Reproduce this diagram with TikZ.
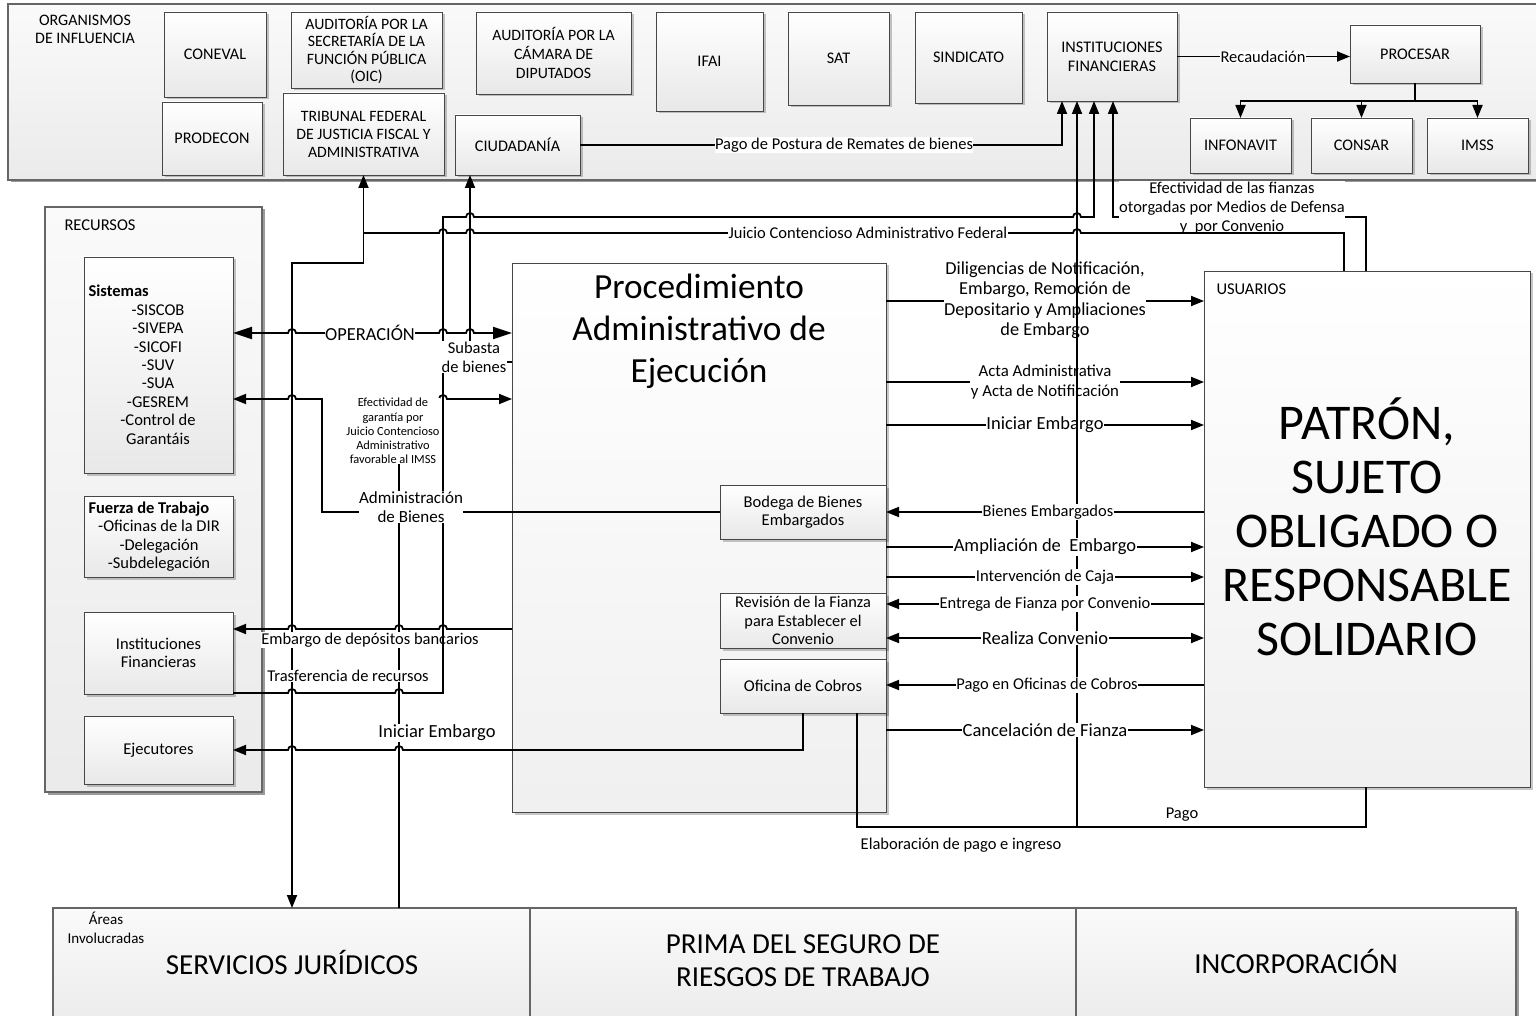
\documentclass[tikz,border=0pt]{standalone}
\usepackage{fontspec}
\setmainfont{Carlito}
\usetikzlibrary{arrows.meta,shadows}

\newcommand\fsz[2]{\fontsize{#1}{#2}\selectfont}
% line hops over a crossing vertical line (left-to-right / right-to-left)
\newcommand\hopR[2]{-- ({#1-4},#2) arc[start angle=180,end angle=0,radius=4pt]}
\newcommand\hopL[2]{-- ({#1+4},#2) arc[start angle=0,end angle=180,radius=4pt]}
% box from corner (x1,y1) to corner (x2,y2)
\newcommand\mkbox[7][]{%
  \pgfmathsetmacro\mbW{#5-#3}%
  \pgfmathsetmacro\mbH{#6-#4}%
  \pgfmathsetmacro\mbX{(#3+#5)/2}%
  \pgfmathsetmacro\mbY{(#4+#6)/2}%
  \node[box,minimum width=\mbW pt,minimum height=\mbH pt,#1] (#2) at (\mbX,\mbY) {#7};}

\begin{document}
\begin{tikzpicture}[x=1pt,y=-1pt,
  every node/.style={font=\fsz{16.5}{19}},
  >={Triangle[length=13pt,width=10pt]},
  conn/.style={line width=1.8pt,draw=black},
  bigtips/.style={{Triangle[length=19pt,width=12pt]}-{Triangle[length=19pt,width=12pt]}},
  box/.style={draw=black!72,line width=0.9pt,top color=white,bottom color=black!9,
    inner sep=0pt,outer sep=0pt,align=center,font=\fsz{16.2}{17.5},
    drop shadow={shadow xshift=2.5pt,shadow yshift=-2.5pt,fill=black,opacity=0.22}},
  band/.style={box,draw=black!60,line width=1.3pt,top color=black!2,bottom color=black!8},
  lbl/.style={fill=white,inner sep=0.5pt,align=center},
]
\useasboundingbox (0,0) rectangle (1536,1016);

% ---------- organismos de influencia ----------
\mkbox[band]{ORG}{8}{4}{1545}{180}{}
\node[align=center,font=\fsz{16}{18}] (tORG) at (85,29) {ORGANISMOS\\DE INFLUENCIA};
\mkbox{CONEV}{164}{12}{266}{97}{CONEVAL}
\mkbox{PRODE}{162}{102}{262}{175}{PRODECON}
\mkbox[font=\fsz{15.8}{17.3}]{AUDS}{291}{12}{442}{88}{AUDITORÍA POR LA\\SECRETARÍA DE LA\\FUNCIÓN PÚBLICA\\(OIC)}
\mkbox[font=\fsz{15.8}{18}]{TRIB}{283}{93}{444}{175}{TRIBUNAL FEDERAL\\DE JUSTICIA FISCAL Y\\ADMINISTRATIVA}
\mkbox[font=\fsz{15.8}{19}]{AUDC}{476}{12}{631}{94}{AUDITORÍA POR LA\\CÁMARA DE\\DIPUTADOS}
\mkbox{CIU}{455}{115}{580}{175}{CIUDADANÍA}
\mkbox{IFAI}{656}{12}{763}{111}{IFAI}
\mkbox{SAT}{788}{12}{889}{105}{SAT}
\mkbox{SIND}{915}{12}{1022}{103}{SINDICATO}
\mkbox[font=\fsz{16.2}{19}]{INSTFIN}{1047}{12}{1177}{101}{INSTITUCIONES\\FINANCIERAS}
\mkbox{PROC}{1350}{25}{1480}{83}{PROCESAR}
\mkbox{INFO}{1190}{118}{1291}{173}{INFONAVIT}
\mkbox{CONS}{1311}{118}{1412}{173}{CONSAR}
\mkbox{IMSS}{1427}{118}{1528}{173}{IMSS}

% ---------- recursos ----------
\mkbox[band]{REC}{45}{207}{262}{792}{}
\node[anchor=west] (tREC) at (61,225) {RECURSOS};
\mkbox{SIS}{84}{257}{233}{473}{}
\node[anchor=west,font=\fsz{16.5}{18.4}\bfseries] (tSIS) at (85,291) {Sistemas};
\node[align=center,font=\fsz{16.5}{18.4}] (tSISl) at (158,374.5)
  {-SISCOB\\-SIVEPA\\-SICOFI\\-SUV\\-SUA\\-GESREM\\-Control de\\Garantáis};
\mkbox{FUE}{84}{496}{233}{577}{}
\node[anchor=west,font=\fsz{16.5}{18.4}\bfseries] (tFUE) at (85,509) {Fuerza de Trabajo};
\node[align=center,font=\fsz{16.5}{18.4}] (tFUEl) at (159,546)
  {-Oficinas de la DIR\\-Delegación\\-Subdelegación};
\mkbox[font=\fsz{16.5}{18}]{IFL}{84}{612}{233}{694}{Instituciones\\Financieras}
\mkbox[font=\fsz{16.5}{18}]{EJE}{84}{716}{233}{784}{Ejecutores}

% ---------- procedimiento administrativo de ejecución ----------
\mkbox[top color=white,bottom color=black!6]{PAE}{512}{263}{886}{812}{}
\node[align=center,font=\fsz{35.3}{42}] (tPAE) at (699,331) {Procedimiento\\Administrativo de\\Ejecución};
\mkbox[font=\fsz{16.5}{18.3}]{BOD}{720}{485}{886}{539}{Bodega de Bienes\\Embargados}
\mkbox[font=\fsz{16.3}{18.3}]{REV}{720}{593}{886}{648}{Revisión de la Fianza\\para Establecer el\\Convenio}
\mkbox[font=\fsz{16.5}{18.3}]{COB}{720}{659}{886}{713}{Oficina de Cobros}

% ---------- usuarios ----------
\mkbox[top color=white,bottom color=black!6]{USU}{1204}{271}{1530}{787}{}
\node[anchor=west] (tUSU) at (1213,289) {USUARIOS};
\node[align=center,font=\fsz{50}{54}] (tPAT) at (1367,527) {PATRÓN,\\SUJETO\\OBLIGADO O\\RESPONSABLE\\SOLIDARIO};

% ---------- áreas involucradas ----------
\mkbox[band]{SJ}{53}{908}{530}{1030}{}
\mkbox[band]{PRI}{530}{908}{1076}{1030}{}
\mkbox[band]{INC}{1076}{908}{1516}{1030}{}
\node[align=center,font=\fsz{15}{19}] (tAREA) at (106,928) {Áreas\\Involucradas};
\node[font=\fsz{29}{33}] (tSJ) at (292,962) {SERVICIOS JURÍDICOS};
\node[align=center,font=\fsz{29}{33}] (tPRI) at (803,961) {PRIMA DEL SEGURO DE\\RIESGOS DE TRABAJO};
\node[font=\fsz{29}{33}] (tINC) at (1296,961) {INCORPORACIÓN};

% ---------- rails ----------
\coordinate (xA) at (292,0);  \coordinate (xB) at (322,0);  \coordinate (xD) at (399,0);
\coordinate (xE) at (443,0);  \coordinate (xF) at (470,0);  \coordinate (xCb) at (803,0);
\coordinate (xCc) at (857,0); \coordinate (xG) at (1077,0); \coordinate (xI) at (1094,0);
\coordinate (xH) at (1113,0); \coordinate (xJ) at (1344,0); \coordinate (xK) at (1366,0);
\coordinate (yEF) at (0,217); \coordinate (yJU) at (0,233); \coordinate (yTR) at (0,263);
\coordinate (yOP) at (0,333); \coordinate (ySU) at (0,362); \coordinate (yGA) at (0,399);
\coordinate (yAD) at (0,512); \coordinate (yEM) at (0,629); \coordinate (yTF) at (0,693);
\coordinate (yIE) at (0,750); \coordinate (yPG) at (0,827);
\coordinate (yDil) at (0,301); \coordinate (yActa) at (0,382); \coordinate (yIni) at (0,425);
\coordinate (yBie) at (0,512); \coordinate (yAmp) at (0,547); \coordinate (yInt) at (0,577);
\coordinate (yEnt) at (0,604); \coordinate (yRea) at (0,638); \coordinate (yPag) at (0,685);
\coordinate (yCan) at (0,730);

% ---------- connectors ----------
\draw[conn,->] (INSTFIN.east) -- (INSTFIN.east -| PROC.west);
\coordinate (pj) at ([yshift=-18pt]PROC.south);
\draw[conn] (PROC.south) -- (pj);
\draw[conn,->] (pj) -| (INFO.north);
\draw[conn,->] (pj) -| (CONS.north);
\draw[conn,->] (pj) -| (IMSS.north);
\draw[conn,->] (CIU.east) -| ([xshift=15pt]INSTFIN.south west);
\draw[conn,<->] (TRIB.south) -- (TRIB.south |- yTR) -- (xA |- yTR) -- (SJ.north -| xA);
\draw[conn,->] (USU.north -| xK) -- (xK |- yEF) -- (xH |- yEF) -- ([xshift=66pt]INSTFIN.south west);
\draw[conn,bigtips] (SIS.east |- yOP) \hopR{292}{333} \hopR{443}{333} \hopR{470}{333} -- (PAE.west |- yOP);
\draw[conn,<-] (SIS.east |- yGA) \hopR{292}{399} -- (xB |- yGA) -- (xB |- yAD) -- (BOD.west);
\draw[conn,->] (SJ.north -| xD) -- (xD |- yGA) \hopR{443}{399} -- (PAE.west |- yGA);
\draw[conn,->] (PAE.west |- ySU) -- (xF |- ySU) -- (CIU.south -| xF);
\draw[conn,->] (PAE.west |- yEM) \hopL{443}{629} \hopL{399}{629} \hopL{292}{629} -- (IFL.east |- yEM);
\draw[conn,->] (COB.south -| xCb) -- (xCb |- yIE) \hopL{399}{750} \hopL{292}{750} -- (EJE.east |- yIE);
\draw[conn,->] (PAE.east |- yDil) -- (USU.west |- yDil);
\draw[conn,->] (PAE.east |- yActa) -- (USU.west |- yActa);
\draw[conn,->] (PAE.east |- yIni) -- (USU.west |- yIni);
\draw[conn,->] (USU.west |- yBie) -- (BOD.east);
\draw[conn,->] (PAE.east |- yAmp) -- (USU.west |- yAmp);
\draw[conn,->] (PAE.east |- yInt) -- (USU.west |- yInt);
\draw[conn,->] (USU.west |- yEnt) -- (REV.east |- yEnt);
\draw[conn,<->] (REV.east |- yRea) -- (USU.west |- yRea);
\draw[conn,->] (USU.west |- yPag) -- (COB.east |- yPag);
\draw[conn,->] (PAE.east |- yCan) -- (USU.west |- yCan);

% labels lying under later connectors
\node[lbl] (lEmb) at (370,640) {Embargo de depósitos bancarios};
\node[lbl,font=\fsz{18.3}{20.5}] (lDil) at (1045,300) {Diligencias de Notificación,\\Embargo, Remoción de\\Depositario y Ampliaciones\\de Embargo};
\node[lbl,font=\fsz{16.8}{20}] (lActa) at (1045,382) {Acta Administrativa\\y Acta de Notificación};
\node[lbl,font=\fsz{18.5}{21}] (lIniR) at (1045,425) {Iniciar Embargo};
\node[lbl] (lEfF) at (1232,208) {Efectividad de las fianzas\\otorgadas por Medios de Defensa\\y\ \ por Convenio};

\draw[conn,->] (IFL.east |- yTF) \hopR{292}{693} \hopR{399}{693} -- (xE |- yTF) -- (xE |- yEF)
  \hopR{470}{217} \hopR{1077}{217} -- (xI |- yEF) -- ([xshift=47pt]INSTFIN.south west);
\draw[conn,->] (COB.south -| xCc) -- (xCc |- yPG) -- (xG |- yPG) -- ([xshift=30pt]INSTFIN.south west);
\draw[conn] (USU.south -| xK) -- (xK |- yPG) -- (xG |- yPG);
\draw[conn] (USU.north -| xJ) -- (xJ |- yJU) \hopL{1077}{233} \hopL{470}{233} \hopL{443}{233} -- (TRIB.south |- yJU);

% remaining labels
\node[lbl] (lRec) at (1263,57) {Recaudación};
\node[lbl] (lPost) at (844,145) {Pago de Postura de Remates de bienes};
\node[lbl] (lJui) at (868,233) {Juicio Contencioso Administrativo Federal};
\node[lbl,font=\fsz{18.4}{21}] (lOp) at (370,333) {OPERACIÓN};
\node[lbl] (lSub) at (474,357) {Subasta\\de bienes};
\node[lbl,font=\fsz{12.4}{14.2},inner sep=0pt] (lGar) at (393,431) {Efectividad de\\garantía por\\Juicio Contencioso\\Administrativo\\favorable al IMSS};
\node[lbl,font=\fsz{17}{19}] (lAdm) at (411,507) {Administración\\de Bienes};
\node[lbl] (lTra) at (348,676) {Trasferencia de recursos};
\node[lbl,font=\fsz{18.5}{21}] (lIni) at (437,733) {Iniciar Embargo};
\node[lbl] (lBie) at (1048,512) {Bienes Embargados};
\node[lbl,font=\fsz{18.5}{21}] (lAmp) at (1045,547) {Ampliación de\ \ Embargo};
\node[lbl,font=\fsz{16.6}{18}] (lInt) at (1045,577) {Intervención de Caja};
\node[lbl] (lEnt) at (1045,604) {Entrega de Fianza por Convenio};
\node[lbl,font=\fsz{18.5}{21}] (lRea) at (1045,638) {Realiza Convenio};
\node[lbl] (lPag) at (1047,685) {Pago en Oficinas de Cobros};
\node[lbl,font=\fsz{18.5}{21}] (lCan) at (1045,730) {Cancelación de Fianza};
\node (lPago) at (1182,815) {Pago};
\node (lElab) at (961,845) {Elaboración de pago e ingreso};
\end{tikzpicture}
\end{document}
